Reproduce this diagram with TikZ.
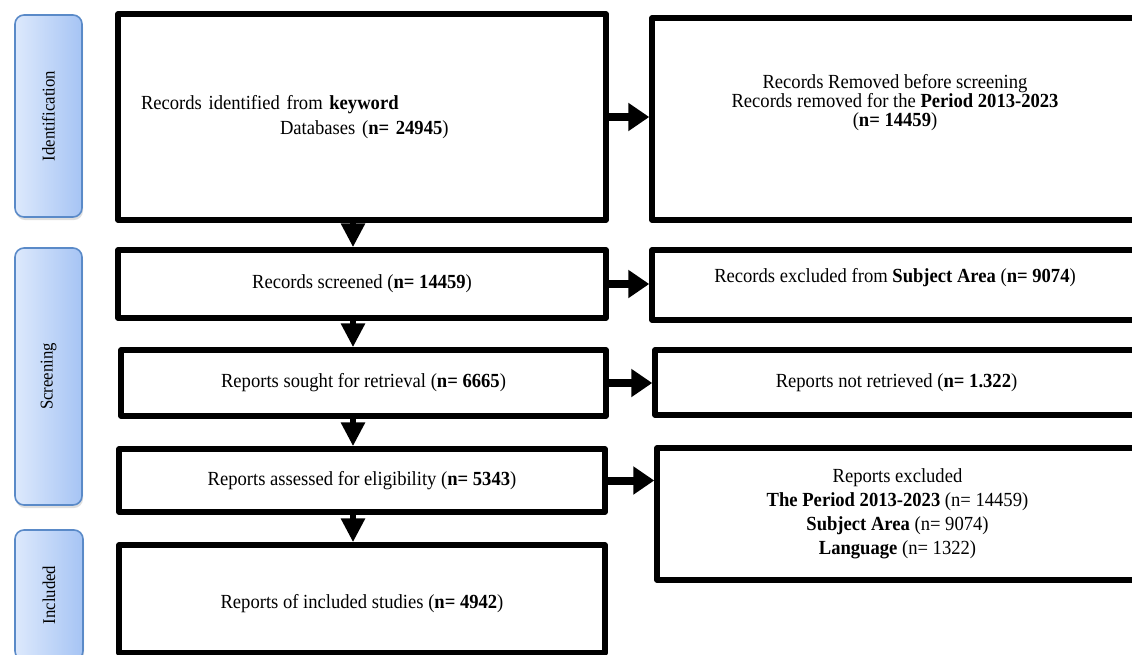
\documentclass[tikz,border=0pt]{standalone}
\usepackage{fontspec}
\setmainfont{Liberation Serif}[FakeStretch=0.93]
\usetikzlibrary{arrows.meta,shadows}
\definecolor{phaselight}{HTML}{DDE9FC}
\definecolor{phasedark}{HTML}{A6C4F4}
\definecolor{phaseedge}{HTML}{5A8AC8}

\begin{document}
\begin{tikzpicture}[x=1pt,y=-1pt,line join=round,
                    font=\fontsize{20}{24}\selectfont]
  \tikzstyle{flowbox}=[draw=black,line width=5.5pt,inner sep=0pt,align=center]
  \tikzstyle{phase}=[draw=phaseedge,line width=1.6pt,rounded corners=9pt,
                     left color=phaselight,right color=phasedark,
                     drop shadow={shadow xshift=1pt,shadow yshift=-3pt,opacity=0.25},
                     font=\fontsize{18}{20}\selectfont]
  \tikzstyle{down}=[-{Triangle[width=23pt,length=24pt]},line width=6pt]
  \tikzstyle{side}=[-{Triangle[width=27pt,length=21pt]},line width=8pt]

  \clip (0,0) rectangle (1132,654);

  % phases
  \node[phase,minimum width=67pt,minimum height=202pt] (idphase)  at (48.5,116)   {\rotatebox{90}{Identification}};
  \node[phase,minimum width=67pt,minimum height=257pt] (scrphase) at (48.5,376.5) {\rotatebox{90}{Screening}};
  \node[phase,minimum width=68pt,minimum height=130pt] (inphase)  at (49,595)     {\rotatebox{90}{Included}};

  % main column
  \node[flowbox,minimum width=488pt,minimum height=206pt,text width=442pt,align=left,
        font=\fontsize{20}{25}\selectfont] (idbox) at (362,117)
       {Records identified from \textbf{keyword}\\\hspace*{139pt}Databases (\textbf{n= 24945})};
  \node[flowbox,minimum width=488pt,minimum height=68pt]  (scrbox)    at (362,284)   {Records screened (\textbf{n= 14459})};
  \node[flowbox,minimum width=485pt,minimum height=66pt]  (soughtbox) at (363.5,383) {Reports sought for retrieval (\textbf{n= 6665})};
  \node[flowbox,minimum width=486pt,minimum height=63pt]  (assessbox) at (362,480.5) {Reports assessed for eligibility (\textbf{n= 5343})};
  \node[flowbox,minimum width=486pt,minimum height=108pt,text height=24pt] (inclbox) at (362,599) {Reports of included studies (\textbf{n= 4942})};

  % exclusions
  \node[flowbox,minimum width=486pt,minimum height=202pt,text depth=37pt,font=\fontsize{20}{19}\selectfont] (rmbox) at (895,119)
       {Records Removed before screening\\Records removed for the \textbf{Period 2013-2023}\\(\textbf{n= 14459})};
  \node[flowbox,minimum width=486pt,minimum height=70pt,text depth=19pt] (subjbox) at (895,285) {Records excluded from \textbf{Subject Area} (\textbf{n= 9074})};
  \node[flowbox,minimum width=483pt,minimum height=65pt]  (notbox)  at (896.5,382.5) {Reports not retrieved (\textbf{n= 1.322})};
  \node[flowbox,minimum width=481pt,minimum height=132pt,font=\fontsize{20}{24}\selectfont] (exbox) at (897.5,514)
       {Reports excluded\\\textbf{The Period 2013-2023} (n= 14459)\\\textbf{Subject Area} (n= 9074)\\\textbf{Language} (n= 1322)};

  % arrows
  \draw[down] ([xshift=-9pt]idbox.south)     -- ([xshift=-9pt]idbox.south |- scrbox.north);
  \draw[down] ([xshift=-9pt]scrbox.south)    -- ([xshift=-9pt]scrbox.south |- soughtbox.north);
  \draw[down] ([xshift=-9pt]scrbox.south |- soughtbox.south) -- ([xshift=-9pt]scrbox.south |- assessbox.north);
  \draw[down] ([xshift=-9pt]assessbox.south) -- ([xshift=-9pt]assessbox.south |- inclbox.north);

  \draw[side] (idbox.east)     -- (idbox.east -| rmbox.west);
  \draw[side] (scrbox.east)    -- (scrbox.east -| subjbox.west);
  \draw[side] (soughtbox.east) -- (soughtbox.east -| notbox.west);
  \draw[side] (assessbox.east) -- (assessbox.east -| exbox.west);
\end{tikzpicture}
\end{document}
